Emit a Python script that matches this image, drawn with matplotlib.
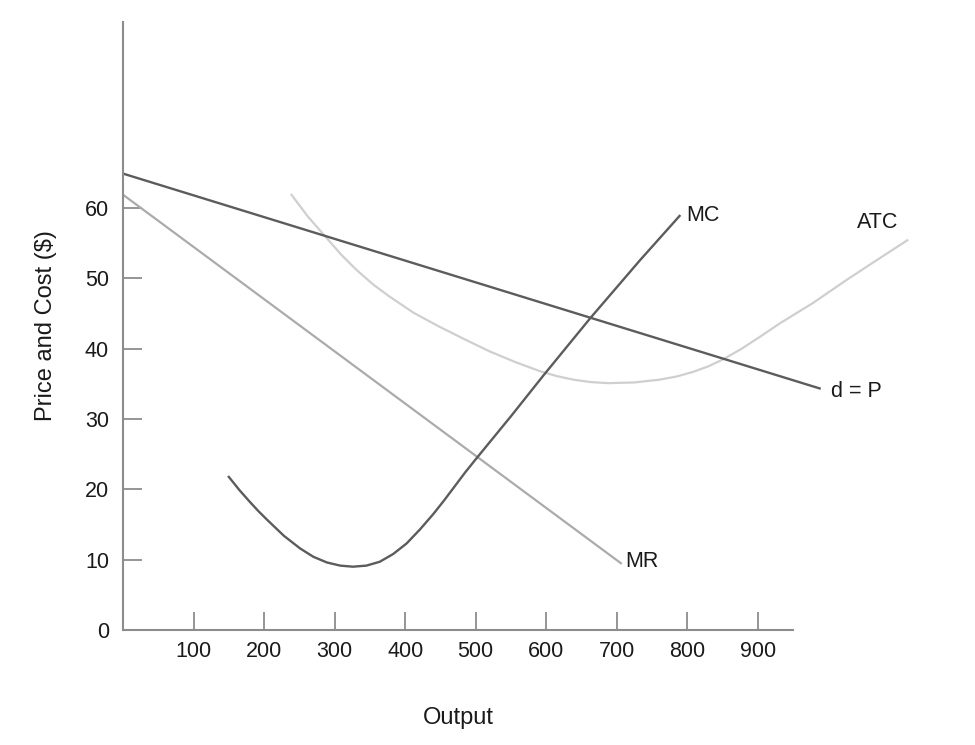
import matplotlib
matplotlib.use("Agg")
import matplotlib.pyplot as plt

plt.rcParams['font.family'] = ['Liberation Sans', 'DejaVu Sans']

# demand (d = P) and marginal revenue: straight lines
demand_q = [0, 989]
demand_p = [64.9, 34.3]
mr_q = [0, 707]
mr_p = [61.9, 9.4]

# marginal cost
mc_q = [149, 165, 180, 192, 204, 228, 251, 270, 289, 308, 326, 345, 364, 383, 402,
        421, 440, 455, 470, 485, 501, 550, 596, 662, 733, 790]
mc_c = [21.9, 19.9, 18.2, 16.9, 15.7, 13.4, 11.6, 10.4, 9.6, 9.15, 9.0, 9.15, 9.7, 10.8, 12.3,
        14.3, 16.5, 18.4, 20.4, 22.4, 24.4, 30.4, 36.2, 44.3, 52.6, 59.0]

# average total cost
atc_q = [238, 262, 289, 310, 331, 355, 378, 412, 449, 485, 520, 556, 591, 615, 638, 663,
         688, 725, 761, 785, 808, 830, 851, 877, 903, 931, 978, 1026, 1070, 1113]
atc_c = [62.0, 58.8, 55.7, 53.3, 51.2, 49.1, 47.4, 45.1, 43.1, 41.3, 39.6, 38.1, 36.8, 36.1, 35.6, 35.25,
         35.1, 35.2, 35.6, 36.05, 36.7, 37.5, 38.5, 40.0, 41.7, 43.6, 46.5, 49.8, 52.7, 55.5]

x_ticks = [100, 200, 300, 400, 500, 600, 700, 800, 900]
y_ticks = [0, 10, 20, 30, 40, 50, 60]

AXIS_GREY = '#8c8c8c'
TEXT = '#1a1a1a'

fig = plt.figure(figsize=(9.75, 7.45), dpi=100)
ax = fig.add_axes([0.1261, 0.1544, 0.8322, 0.8165])

ax.plot(atc_q, atc_c, color='#cfcfcf', lw=1.6, solid_capstyle='butt', solid_joinstyle='round')
ax.plot(mr_q, mr_p, color='#ababab', lw=1.6, solid_capstyle='butt')
ax.plot(demand_q, demand_p, color='#5c5c5c', lw=1.7, solid_capstyle='butt')
ax.plot(mc_q, mc_c, color='#5c5c5c', lw=1.7, solid_capstyle='butt', solid_joinstyle='round')

ax.set_xlim(0, 1150)
ax.set_ylim(0, 86.5)

for s in ['top', 'right']:
    ax.spines[s].set_visible(False)
for s in ['left', 'bottom']:
    ax.spines[s].set_color(AXIS_GREY)
    ax.spines[s].set_linewidth(1.5)
ax.spines['bottom'].set_bounds(0, 950)

ax.set_xticks(x_ticks)
ax.set_yticks(y_ticks)
ax.tick_params(axis='x', direction='in', length=13, width=1.3, color=AXIS_GREY,
               labelsize=15.5, labelcolor=TEXT, pad=8)
ax.tick_params(axis='y', direction='in', length=14, width=1.3, color=AXIS_GREY,
               labelsize=15.5, labelcolor=TEXT, pad=10)

ax.set_xlabel('Output', fontsize=17, color=TEXT)
ax.xaxis.set_label_coords(0.413, -0.127)
ax.set_ylabel('Price and Cost ($)', fontsize=17, color=TEXT)
ax.yaxis.set_label_coords(-0.081, 0.5)

lab = dict(fontsize=15.5, color=TEXT, ha='left', va='center')
ax.text(799, 59.0, 'MC', **lab)
ax.text(1040, 57.9, 'ATC', **lab)
ax.text(1003, 33.9, 'd = P', **lab)
ax.text(712, 9.7, 'MR', **lab)

plt.savefig('out.png', dpi=100)
